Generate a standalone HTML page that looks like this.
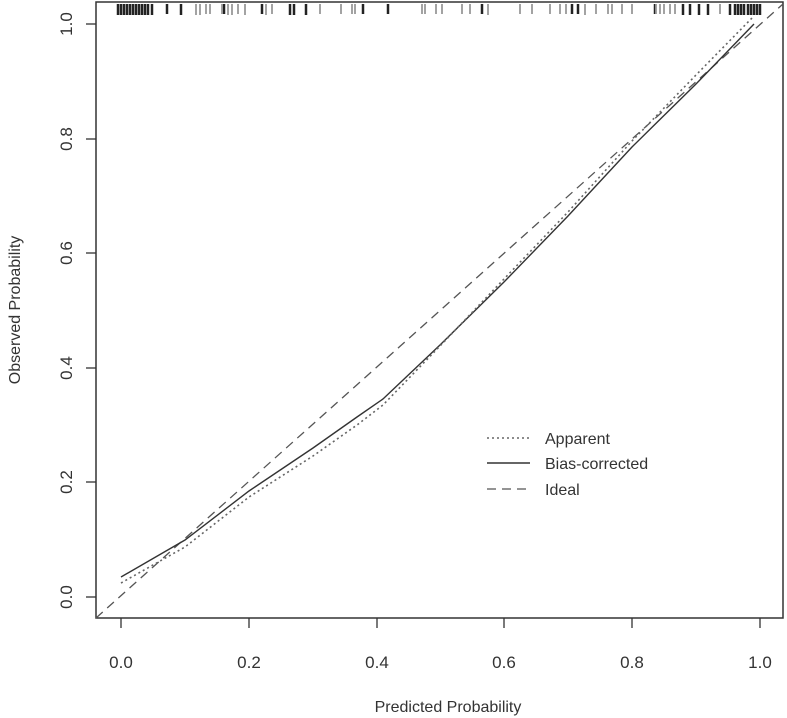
<!DOCTYPE html>
<html><head><style>body{margin:0;background:#fff}svg{display:block}</style></head><body>
<svg width="787" height="718" xmlns="http://www.w3.org/2000/svg" font-family="Liberation Sans, sans-serif" fill="#333">
<rect x="96" y="2" width="687" height="616" fill="none" stroke="#333" stroke-width="1.5"/>
<g stroke="#333" stroke-width="1.3">
<line x1="86" y1="597" x2="96" y2="597"/><line x1="86" y1="482" x2="96" y2="482"/><line x1="86" y1="368" x2="96" y2="368"/><line x1="86" y1="253" x2="96" y2="253"/><line x1="86" y1="139" x2="96" y2="139"/><line x1="86" y1="24" x2="96" y2="24"/>
<line x1="121" y1="618" x2="121" y2="628"/><line x1="249" y1="618" x2="249" y2="628"/><line x1="377" y1="618" x2="377" y2="628"/><line x1="504" y1="618" x2="504" y2="628"/><line x1="632" y1="618" x2="632" y2="628"/><line x1="760" y1="618" x2="760" y2="628"/>
</g>
<g font-size="17" text-anchor="middle">
<text x="121" y="668">0.0</text><text x="249" y="668">0.2</text><text x="377" y="668">0.4</text><text x="504" y="668">0.6</text><text x="632" y="668">0.8</text><text x="760" y="668">1.0</text>
<text x="448" y="712" font-size="16">Predicted Probability</text>
<g transform="translate(72,0)">
<text transform="translate(0,597) rotate(-90)">0.0</text><text transform="translate(0,482) rotate(-90)">0.2</text><text transform="translate(0,368) rotate(-90)">0.4</text><text transform="translate(0,253) rotate(-90)">0.6</text><text transform="translate(0,139) rotate(-90)">0.8</text><text transform="translate(0,24) rotate(-90)">1.0</text>
</g>
<text transform="translate(20,310) rotate(-90)" font-size="16">Observed Probability</text>
</g>
<line x1="96" y1="618" x2="783" y2="4" stroke="#555" stroke-width="1.3" stroke-dasharray="9,6"/>
<polyline fill="none" stroke="#333" stroke-width="1.4" points="121,577 185,540 249,491 313,448 357,417 383,399 440,345 504,282 568,216 632,147 696,84 754,24"/>
<polyline fill="none" stroke="#666" stroke-width="1.6" stroke-dasharray="2,3" points="121,583 185,547 249,497 313,456 357,425 383,405 440,346 504,279 568,212 632,141 696,75 754,16"/>
<g stroke="#222" stroke-width="2.5">
<path d="M118 4v11M121 4v11M124 4v11M127 4v11M130 4v11M133 4v11M136 4v11M139 4v11M142 4v11M145 4v11M148 4v11M152 4v11M167 4v10M181 4v11M224 4v10M262 4v10M290 4v11M294 4v11M306 4v11M363 4v10M388 4v10M482 4v10M572 4v10M578 4v10M655 4v10M683 4v11M690 4v11M699 4v11M708 4v11M730 4v11M735 4v11M738 4v11M741 4v11M744 4v11M748 4v11M751 4v11M754 4v11M757 4v11M760 4v11"/>
</g>
<g stroke="#999" stroke-width="1.8">
<path d="M196 4v11M200 4v11M206 4v10M210 4v10M222 4v10M228 4v11M232 4v11M238 4v10M245 4v11M266 4v11M272 4v10M320 4v10M341 4v10M352 4v10M355 4v10M422 4v10M425 4v10M436 4v10M442 4v10M462 4v10M470 4v10M488 4v11M520 4v10M532 4v10M550 4v10M560 4v10M566 4v10M585 4v11M596 4v10M608 4v10M612 4v10M622 4v10M632 4v10M656 4v10M660 4v10M664 4v10M670 4v10M675 4v10M720 4v10"/>
</g>
<line x1="487" y1="438" x2="530" y2="438" stroke="#666" stroke-width="1.6" stroke-dasharray="2,3"/>
<line x1="487" y1="463" x2="530" y2="463" stroke="#333" stroke-width="1.4"/>
<line x1="487" y1="489" x2="530" y2="489" stroke="#555" stroke-width="1.3" stroke-dasharray="9,6"/>
<g font-size="16"><text x="545" y="444">Apparent</text><text x="545" y="469">Bias-corrected</text><text x="545" y="495">Ideal</text></g>
</svg>
</body></html>
